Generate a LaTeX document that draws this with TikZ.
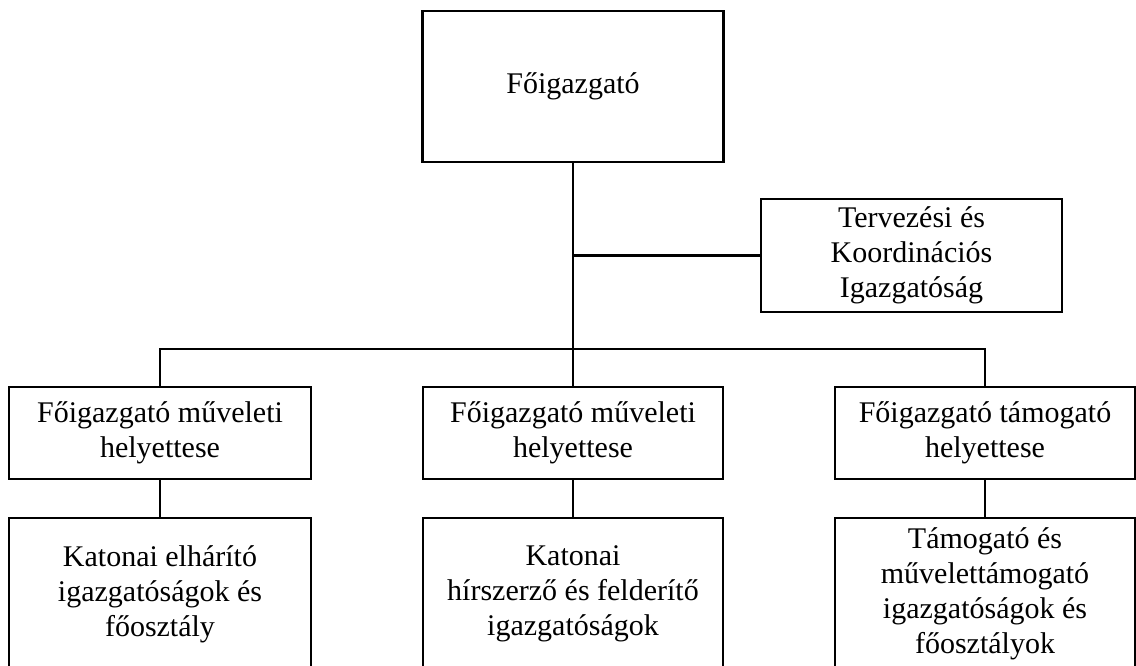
\documentclass[tikz,border=0pt]{standalone}
\usepackage{fontspec}
\setmainfont{Liberation Serif}
\begin{document}
\begin{tikzpicture}[x=1pt,y=-1pt,
  box/.style={draw=black,line width=2.4pt,inner sep=0pt,outer sep=0pt,align=center,
    font=\fontsize{30}{35}\selectfont,text=black},
  conn/.style={draw=black,line width=2.4pt}]
\useasboundingbox (0,0) rectangle (1136,666);
\clip (0,0) rectangle (1136,666);
\node[box,minimum width=301pt,minimum height=151pt] (top) at (573,86.5) {Főigazgató};
\node[box,minimum width=301pt,minimum height=113pt] (terv) at (911.5,255.5) {Tervezési és\\Koordinációs\\Igazgatóság};
\node[box,minimum width=302pt,minimum height=92pt] (b1) at (160,433) {Főigazgató műveleti\\helyettese};
\node[box,minimum width=300pt,minimum height=92pt] (b2) at (573,433) {Főigazgató műveleti\\helyettese};
\node[box,minimum width=300pt,minimum height=92pt] (b3) at (985,433) {Főigazgató támogató\\helyettese};
\node[box,minimum width=302pt,minimum height=152pt] (c1) at (160,594) {Katonai elhárító\\igazgatóságok és\\főosztály};
\node[box,minimum width=300pt,minimum height=152pt] (c2) at (573,594) {Katonai\\hírszerző és felderítő\\igazgatóságok};
\node[box,minimum width=300pt,minimum height=152pt] (c3) at (985,594) {Támogató és\\művelettámogató\\igazgatóságok és\\főosztályok};
\coordinate (j) at (573,349);
\draw[conn] (top.south) -- (b2.north);
\draw[conn] (top.south |- terv.west) -- (terv.west);
\draw[conn] (b1.north) |- (j) -| (b3.north);
\draw[conn] (b1.south) -- (c1.north);
\draw[conn] (b2.south) -- (c2.north);
\draw[conn] (b3.south) -- (c3.north);
\end{tikzpicture}
\end{document}
